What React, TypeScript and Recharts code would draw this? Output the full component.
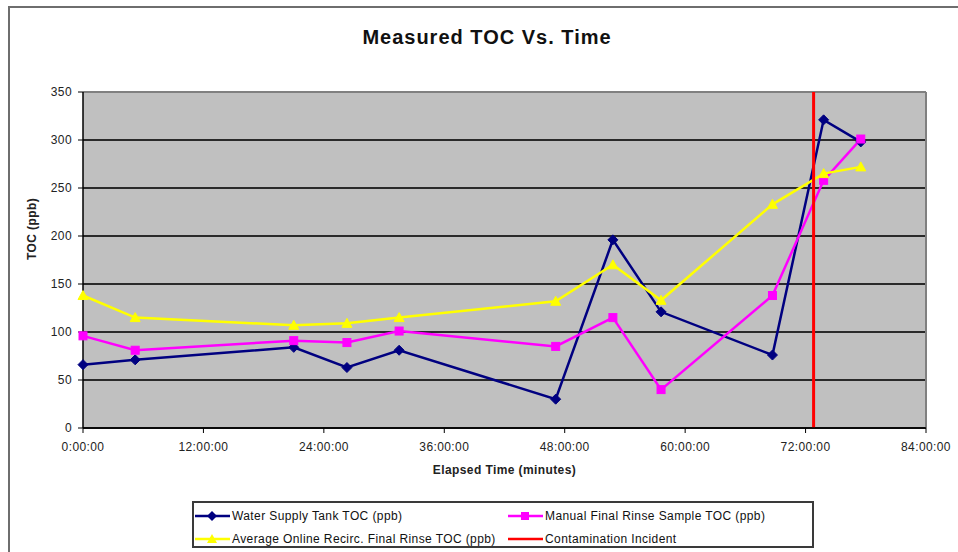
import React from 'react';
import { LineChart, Line, XAxis, YAxis, CartesianGrid, ReferenceLine, Legend } from 'recharts';

// elapsed hours of each sample
const hours = [0, 5.2, 21.0, 26.3, 31.5, 47.1, 52.8, 57.6, 68.7, 73.8, 77.5];
const waterSupply = [66, 71, 84, 63, 81, 30, 196, 121, 76, 321, 298];
const manualRinse = [96, 81, 91, 89, 101, 85, 115, 40, 138, 258, 301];
const onlineRecirc = [138, 115, 107, 109, 115, 132, 170, 133, 233, 265, 272];

const xTicks = [0, 12, 24, 36, 48, 60, 72, 84];
const yTicks = [0, 50, 100, 150, 200, 250, 300, 350];
const incidentHour = 72.8;

const seriesNames = {
  water: 'Water Supply Tank TOC (ppb)',
  manual: 'Manual Final Rinse Sample TOC (ppb)',
  online: 'Average Online Recirc. Final Rinse TOC (ppb)',
  incident: 'Contamination Incident',
};

const data = hours.map((t, i) => ({
  t,
  water: waterSupply[i],
  manual: manualRinse[i],
  online: onlineRecirc[i],
}));

const font = '"Liberation Sans", Arial, sans-serif';

const Diamond = (props: any) => {
  const { cx, cy, key } = props;
  if (cx == null || cy == null) return null;
  return <path key={key} d={`M${cx},${cy - 5}L${cx + 5},${cy}L${cx},${cy + 5}L${cx - 5},${cy}Z`} fill="#000080" stroke="#000080" />;
};

const Square = (props: any) => {
  const { cx, cy, key } = props;
  if (cx == null || cy == null) return null;
  return <rect key={key} x={cx - 4} y={cy - 4} width={8} height={8} fill="#FF00FF" stroke="#FF00FF" />;
};

const Triangle = (props: any) => {
  const { cx, cy, key } = props;
  if (cx == null || cy == null) return null;
  return <path key={key} d={`M${cx},${cy - 5}L${cx + 5},${cy + 4}L${cx - 5},${cy + 4}Z`} fill="#FFFF00" stroke="#FFFF00" />;
};

function LegendIcon({ color, marker }: { color: string; marker: string }) {
  return (
    <svg width={37} height={12} style={{ display: 'block', flex: 'none' }}>
      <line x1={1} y1={6} x2={36} y2={6} stroke={color} strokeWidth={2.5} />
      {marker === 'diamond' && <path d="M18,1L23,6L18,11L13,6Z" fill={color} />}
      {marker === 'square' && <rect x={14} y={2} width={8} height={8} fill={color} />}
      {marker === 'triangle' && <path d="M18,1L23,10L13,10Z" fill={color} />}
    </svg>
  );
}

function LegendBox() {
  const item = (color: string, marker: string, label: string) => (
    <div style={{ display: 'flex', alignItems: 'center', height: 23, gap: 1 }}>
      <LegendIcon color={color} marker={marker} />
      <span style={{ whiteSpace: 'nowrap' }}>{label}</span>
    </div>
  );
  return (
    <div
      style={{
        boxSizing: 'border-box',
        width: 622,
        height: 47,
        border: '2px solid #3a3a3a',
        background: '#fff',
        fontFamily: font,
        fontSize: 12,
        letterSpacing: 0.4,
        color: '#111',
        display: 'grid',
        gridTemplateColumns: '313px auto',
        paddingTop: 1,
      }}
    >
      {item('#000080', 'diamond', seriesNames.water)}
      {item('#FF00FF', 'square', seriesNames.manual)}
      {item('#FFFF00', 'triangle', seriesNames.online)}
      {item('#FF0000', 'none', seriesNames.incident)}
    </div>
  );
}

export default function App() {
  return (
    <div style={{ position: 'absolute', left: 0, top: 0, width: 958, height: 552, overflow: 'hidden', background: '#fff' }}>
      <div
        style={{
          position: 'absolute',
          left: 8,
          top: 6,
          width: 980,
          height: 580,
          border: '2px solid #6e6e6e',
        }}
      />
      <div
        style={{
          position: 'absolute',
          left: 0,
          width: 974,
          top: 26,
          textAlign: 'center',
          fontFamily: font,
          fontWeight: 'bold',
          fontSize: 20,
          letterSpacing: 1,
          color: '#111',
        }}
      >
        Measured TOC Vs. Time
      </div>
      <div style={{ position: 'absolute', left: 0, top: 0 }}>
        <LineChart width={958} height={552} data={data} margin={{ top: 92, right: 32, bottom: 94, left: 23 }}>
          <CartesianGrid
            vertical={false}
            stroke="#2a2a2a"
            strokeWidth={2}
            fill="#C0C0C0"
            fillOpacity={1}
          />
          <XAxis
            type="number"
            dataKey="t"
            domain={[0, 84]}
            ticks={xTicks}
            tickFormatter={(h: number) => `${h}:00:00`}
            height={30}
            axisLine={{ stroke: '#000', strokeWidth: 1.5 }}
            tickLine={{ stroke: '#000' }}
            tickSize={5}
            tickMargin={9}
            tick={{ fill: '#222', fontSize: 12, fontFamily: font, letterSpacing: 0.4 }}
            label={{
              value: 'Elapsed Time (minutes)',
              position: 'insideBottom',
              offset: -16,
              fill: '#222',
              fontSize: 12,
              fontWeight: 'bold',
              fontFamily: font,
              letterSpacing: 0.4,
            }}
          />
          <YAxis
            type="number"
            domain={[0, 350]}
            ticks={yTicks}
            width={60}
            axisLine={{ stroke: '#000', strokeWidth: 1.5 }}
            tickLine={{ stroke: '#000' }}
            tickSize={5}
            tickMargin={6}
            tick={{ fill: '#222', fontSize: 12, fontFamily: font, letterSpacing: 0.4 }}
            label={{
              value: 'TOC (ppb)',
              angle: -90,
              position: 'insideLeft',
              offset: 9,
              fill: '#222',
              fontSize: 12,
              fontWeight: 'bold',
              fontFamily: font,
              letterSpacing: 0.4,
            }}
          />
          <ReferenceLine y={350} stroke="#808080" strokeWidth={2} />
          <ReferenceLine x={84} stroke="#808080" strokeWidth={2} />
          <Line
            dataKey="water"
            name={seriesNames.water}
            stroke="#000080"
            strokeWidth={2.5}
            dot={Diamond}
            activeDot={false}
            isAnimationActive={false}
          />
          <Line
            dataKey="manual"
            name={seriesNames.manual}
            stroke="#FF00FF"
            strokeWidth={2.5}
            dot={Square}
            activeDot={false}
            isAnimationActive={false}
          />
          <Line
            dataKey="online"
            name={seriesNames.online}
            stroke="#FFFF00"
            strokeWidth={2.5}
            dot={Triangle}
            activeDot={false}
            isAnimationActive={false}
          />
          <ReferenceLine x={incidentHour} stroke="#FF0000" strokeWidth={3} />
          <Legend
            layout="vertical"
            verticalAlign="middle"
            align="center"
            wrapperStyle={{ left: 192, top: 501, width: 622, height: 47 }}
            content={() => <LegendBox />}
          />
        </LineChart>
      </div>
    </div>
  );
}
